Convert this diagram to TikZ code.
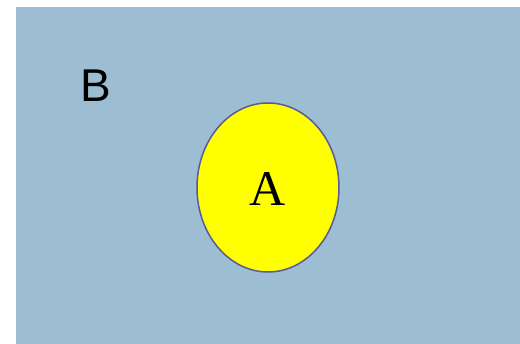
\documentclass[tikz,border=0pt]{standalone}
\usepackage{fontspec}
\usetikzlibrary{shapes.geometric}
\newfontfamily\sansB{Liberation Sans}
\newfontfamily\serifA{Liberation Serif}
\definecolor{bgblue}{RGB}{157,189,211}
\definecolor{edge}{RGB}{90,90,150}
\definecolor{ayellow}{RGB}{255,255,0}
\begin{document}
\begin{tikzpicture}[x=1pt,y=-1pt,
  setbox/.style={fill=bgblue,draw=none},
  setA/.style={ellipse,fill=ayellow,draw=edge,line width=1.5pt,minimum width=142pt,minimum height=169pt,inner sep=0pt}]
\useasboundingbox (0,0) rectangle (520,344);
\fill[white] (0,0) rectangle (520,344);
\path[setbox] (16,7) rectangle (520,344);
\node[setA] (ellA) at (268,187.5) {};
\node (A) at (268,188.5) {\serifA\fontsize{50}{50}\selectfont A};
\node (B) at (96,86) {\sansB\fontsize{46}{46}\selectfont B};
\end{tikzpicture}
\end{document}
